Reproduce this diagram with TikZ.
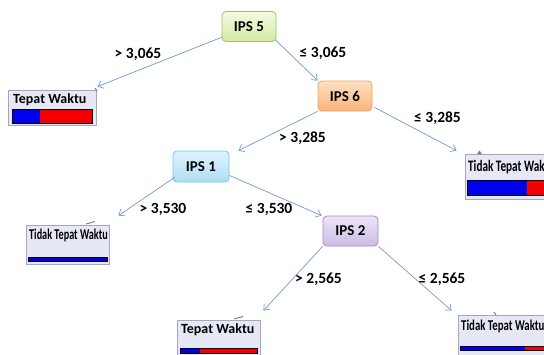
\documentclass[tikz,border=0pt]{standalone}
\usepackage{fontspec}
\setmainfont{Carlito}
\usepackage{graphicx}
\usetikzlibrary{arrows.meta,calc}
\definecolor{edgec}{HTML}{6F9BD1}
\definecolor{leaffill}{HTML}{E6E8F6}
\definecolor{leafdraw}{HTML}{A3A8BE}
\definecolor{barblue}{HTML}{0000F0}
\definecolor{barred}{HTML}{F50000}
\tikzset{
  ipsbox/.style={rounded corners=4pt, minimum width=54pt, minimum height=30pt, inner sep=0pt,
    font=\fontsize{15}{15}\selectfont\bfseries, line width=0.8pt},
  leafbox/.style={draw=leafdraw, fill=leaffill, line width=0.8pt},
  leaftext/.style={anchor=west, inner sep=0pt, font=\fontsize{14}{14}\selectfont\bfseries},
  cond/.style={inner sep=0pt, font=\fontsize{15.5}{15.5}\selectfont\bfseries},
  edge/.style={draw=edgec, line width=0.7pt, -{Straight Barb[length=5pt,width=8pt]}},
  barline/.style={draw=black, line width=0.8pt},
  tab/.style={draw=gray, line width=1pt}
}
\begin{document}
\begin{tikzpicture}[x=1pt,y=-1pt]
\useasboundingbox (0,0) rectangle (544,354);
% decision nodes
\node[ipsbox, top color={rgb,255:red,244;green,250;blue,226}, bottom color={rgb,255:red,212;green,234;blue,160}, draw={rgb,255:red,158;green,196;blue,98}] (ips5) at (249,26.5) {IPS 5};
\node[ipsbox, top color={rgb,255:red,253;green,224;blue,196}, bottom color={rgb,255:red,250;green,180;blue,122}, draw={rgb,255:red,246;green,160;blue,90}] (ips6) at (345,96) {IPS 6};
\node[ipsbox, minimum width=56pt, minimum height=31pt, top color={rgb,255:red,222;green,244;blue,252}, bottom color={rgb,255:red,176;green,222;blue,244}, draw={rgb,255:red,122;green,194;blue,226}] (ips1) at (201,166.5) {IPS 1};
\node[ipsbox, minimum width=55pt, top color={rgb,255:red,236;green,228;blue,246}, bottom color={rgb,255:red,204;green,188;blue,230}, draw={rgb,255:red,164;green,138;blue,204}] (ips2) at (350.5,231) {IPS 2};
% leaves
\node[leafbox, minimum width=88pt, minimum height=35pt, inner sep=0pt] (l1) at (52,107.5) {};
\node[leaftext] (l1t) at (13,100) {Tepat Waktu};
\fill[barblue] (12,109) rectangle (40,123);
\fill[barred] (40,109) rectangle (92,123);
\draw[barline] (12,109) rectangle (92,123);
\draw[tab] (95,88) -- (97,91);

\node[leafbox, minimum width=83pt, minimum height=39pt, inner sep=0pt] (l2) at (67.5,244.5) {};
\node[leaftext] (l2t) at (29,235) {\scalebox{0.68}[1]{\fontsize{15}{15}\selectfont Tidak Tepat Waktu}};
\fill[barblue] (28,257) rectangle (107,261);
\draw[barline] (28,257) rectangle (107,261);
\draw[tab] (86,224) -- (95,221.5);

\node[leafbox, minimum width=90pt, minimum height=45pt, inner sep=0pt] (r1) at (510,176.5) {};
\node[leaftext] (r1t) at (468,167.5) {\scalebox{0.7}[1]{\fontsize{16}{16}\selectfont Tidak Tepat Waktu}};
\fill[barblue] (467,180) rectangle (527,195);
\fill[barred] (527,180) rectangle (550,195);
\draw[barline] (467,180) rectangle (550,195);
\fill[gray] (477,154) -- (479.5,150.5) -- (482,154) -- cycle;

\node[leafbox, minimum width=83pt, minimum height=40pt, inner sep=0pt] (b1) at (218.5,340) {};
\node[leaftext] (b1t) at (181,330) {Tepat Waktu};
\fill[barblue] (180,348) rectangle (200,353);
\fill[barred] (200,348) rectangle (257,353);
\draw[barline] (180,348) rectangle (257,353);
\draw[tab] (234,319) -- (243,316.5);

\node[leafbox, minimum width=92pt, minimum height=45pt, inner sep=0pt] (b2) at (504,337.5) {};
\node[leaftext] (b2t) at (461,326.5) {\scalebox{0.72}[1]{\fontsize{15}{15}\selectfont Tidak Tepat Waktu}};
\fill[barblue] (460,346) rectangle (525,350);
\fill[barred] (525,346) rectangle (550,350);
\draw[barline] (460,346) rectangle (550,350);
\draw[tab] (494,312) -- (496,315);
% edges
\draw[edge] ([xshift=1pt,yshift=5pt]ips5.south west) -- ([xshift=1pt,yshift=3pt]l1.north east);
\draw[edge] ([xshift=-1pt,yshift=2pt]ips5.south east) -- (ips6.north west);
\draw[edge] (ips6.south west) -- ([xshift=9pt]ips1.north east);
\draw[edge] ([xshift=2pt,yshift=4pt]ips6.south east) -- ([xshift=-8pt,yshift=3pt]r1.north west);
\draw[edge] ([xshift=2pt,yshift=5pt]ips1.south west) -- ([xshift=9pt,yshift=9pt]l2.north east);
\draw[edge] ([yshift=7pt]ips1.south east) -- ([xshift=-1pt]ips2.north west);
\draw[edge] (ips2.south west) -- ([xshift=3pt,yshift=9pt]b1.north east);
\draw[edge] (ips2.south east) -- ([xshift=-6pt,yshift=4pt]b2.north west);
% conditions
\node[cond] (c1) at (138,54) {> 3,065};
\node[cond] (c2) at (323,53) {≤ 3,065};
\node[cond] (c3) at (302.5,138) {> 3,285};
\node[cond] (c4) at (437.5,118) {≤ 3,285};
\node[cond] (c5) at (163,209) {> 3,530};
\node[cond] (c6) at (269,209) {≤ 3,530};
\node[cond] (c7) at (318.5,279) {> 2,565};
\node[cond] (c8) at (442,279) {≤ 2,565};
\end{tikzpicture}
\end{document}
